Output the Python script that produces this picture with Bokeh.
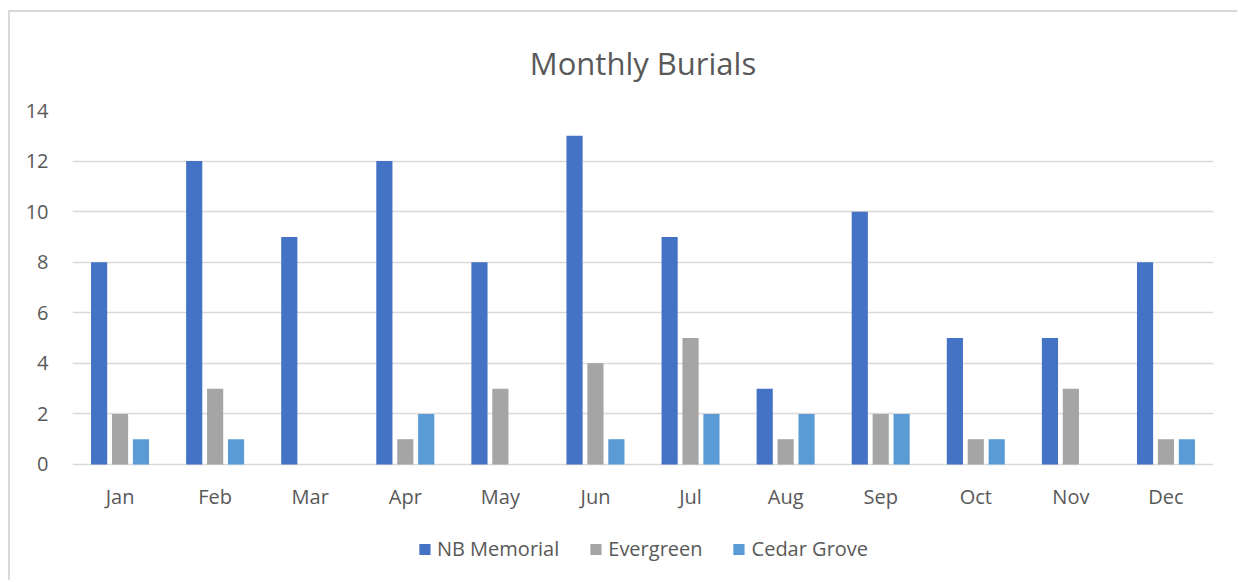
from bokeh.plotting import figure
from bokeh.models import (ColumnDataSource, FactorRange, Range1d, Legend, LegendItem, FixedTicker)
from bokeh.transform import dodge
from bokeh.core.properties import value
from bokeh.embed import file_html
from bokeh.resources import INLINE

months = ["Jan", "Feb", "Mar", "Apr", "May", "Jun", "Jul", "Aug", "Sep", "Oct", "Nov", "Dec"]
nb_memorial = [8, 12, 9, 12, 8, 13, 9, 3, 10, 5, 5, 8]
evergreen = [2, 3, 0, 1, 3, 4, 5, 1, 2, 1, 3, 1]
cedar_grove = [1, 1, 0, 2, 0, 1, 2, 2, 2, 1, 0, 1]
y_ticks = [0, 2, 4, 6, 8, 10, 12, 14]

source = ColumnDataSource(dict(month=months, nb=nb_memorial, ev=evergreen, cg=cedar_grove))

FONT = "Open Sans"
TXT = "#595959"
LABEL_Y = -1.27   # vertical place of month labels, under the zero line

p = figure(x_range=FactorRange(*months), y_range=Range1d(-4.588, 14),
           frame_width=1141, frame_height=470, output_backend="svg", toolbar_location=None,
           min_border_left=62, min_border_right=24, min_border_top=98, min_border_bottom=0)
p.margin = (10, 0, 0, 8)
p.styles = {"border-top": "2px solid #d9d9d9", "border-left": "2px solid #d9d9d9"}

r1 = p.vbar(x=dodge("month", -0.22, range=p.x_range), top="nb", width=0.17, source=source,
            fill_color="#4472C4", line_color=None)
r2 = p.vbar(x=dodge("month", 0.0, range=p.x_range), top="ev", width=0.17, source=source,
            fill_color="#A5A5A5", line_color=None)
r3 = p.vbar(x=dodge("month", 0.22, range=p.x_range), top="cg", width=0.17, source=source,
            fill_color="#5B9BD5", line_color=None)

p.text(x="month", y=LABEL_Y, text="month", source=source,
       text_font=value(FONT), text_font_size="20px", text_color=TXT,
       text_align="center", text_baseline="middle")

p.title.text = "Monthly Burials"
p.title.align = "center"
p.title.text_font = FONT
p.title.text_font_size = "31px"
p.title.text_font_style = "normal"
p.title.text_color = TXT
p.title.standoff = 54

p.outline_line_color = None
p.xgrid.grid_line_color = None
p.ygrid.grid_line_color = "#D9D9D9"
p.ygrid.grid_line_width = 1.5
p.yaxis.ticker = FixedTicker(ticks=y_ticks)
p.yaxis.axis_line_color = None
p.yaxis.major_tick_line_color = None
p.yaxis.minor_tick_line_color = None
p.yaxis.major_label_text_font = FONT
p.yaxis.major_label_text_font_size = "20px"
p.yaxis.major_label_text_color = TXT
p.yaxis.major_label_standoff = 18

p.xaxis.visible = False

legend = Legend(items=[LegendItem(label="NB Memorial", renderers=[r1]),
                       LegendItem(label="Evergreen", renderers=[r2]),
                       LegendItem(label="Cedar Grove", renderers=[r3])],
                orientation="horizontal", location="bottom_center",
                label_text_font=FONT, label_text_font_size="20px", label_text_color=TXT,
                glyph_width=14, glyph_height=14, spacing=29, label_standoff=6,
                border_line_color=None, background_fill_alpha=0, margin=18, padding=5)
p.add_layout(legend, "center")

open("out.html", "w").write(file_html(p, INLINE))
